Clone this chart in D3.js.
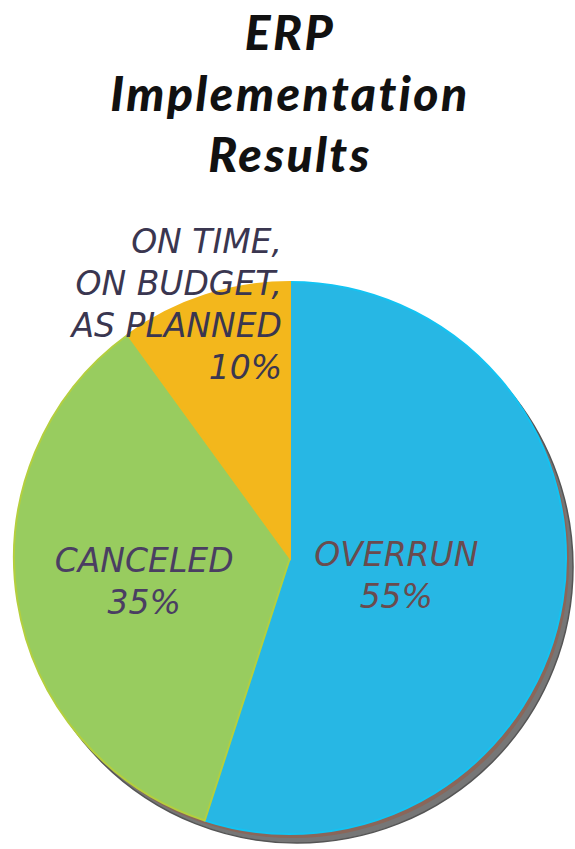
<!DOCTYPE html>
<html>
<head>
<meta charset="utf-8">
<script src="https://cdn.jsdelivr.net/npm/d3@7"></script>
<style>
  html, body { margin: 0; padding: 0; background: #fff; }
  svg { display: block; }
  text { font-style: italic; }
  .title { font-family: Lato, 'Open Sans', sans-serif; }
  .label { font-family: 'DejaVu Sans', sans-serif; }
</style>
</head>
<body>
<div id="chart"></div>
<script>
var titleLines = ['ERP', 'Implementation', 'Results']
var categories = ['OVERRUN', 'CANCELED', 'ON TIME,|ON BUDGET,|AS PLANNED']
var values = [55, 35, 10]
var colors = ['#27b7e4', '#98cc5f', '#f3b71c']
var edgeColors = ['#14c3f2', '#b4cf3e', '#f3b71c']
var labelColors = ['#6a4b4e', '#4a3e62', '#3a3650']

var w = 575
var h = 849
var cx = 290
var cy = 558
var r = 276
var lh = 42

var svg = d3.select('#chart')
	.append('svg')
	.attr('width', w)
	.attr('height', h)

// title
svg.selectAll('text.title')
	.data(titleLines)
	.enter()
	.append('text')
	.attr('class', 'title')
	.attr('x', 290)
	.attr('y', (d, i) => 50 + i * 61)
	.attr('text-anchor', 'middle')
	.attr('font-size', 48)
	.attr('font-weight', 900)
	.attr('letter-spacing', 2.5)
	.attr('fill', '#111')
	.text(d => d)

var pie = d3.pie().sort(null).value(d => d)
var arcs = pie(values)

var arc = d3.arc().innerRadius(0).outerRadius(r)

// 3d edge / shadow
svg.append('circle')
	.attr('cx', cx + 7)
	.attr('cy', cy + 9)
	.attr('r', r)
	.attr('fill', '#767676')
	.attr('stroke', '#555')
	.attr('stroke-width', 1.5)
svg.append('circle')
	.attr('cx', cx + 3)
	.attr('cy', cy + 4)
	.attr('r', r)
	.attr('fill', '#8a6659')

var g = svg.append('g')
	.attr('transform', 'translate(' + cx + ',' + cy + ')')

g.selectAll('path')
	.data(arcs)
	.enter()
	.append('path')
	.attr('d', arc)
	.attr('fill', (d, i) => colors[i])
	.attr('stroke', (d, i) => edgeColors[i])
	.attr('stroke-width', 2)

// labels
var labelRadius = [0.39, 0.535]

arcs.forEach(function(d, i) {
	var lines = categories[i].split('|').concat([values[i] + '%'])
	var x, y, anchor
	if (i < 2) {
		var la = d3.arc().innerRadius(0).outerRadius(r * labelRadius[i] * 2)
		var c = la.centroid(d)
		x = c[0]
		y = c[1] - lh / 2 + 12
		anchor = 'middle'
	} else {
		// above the pie, right aligned on the slice's end edge
		x = Math.sin(d.endAngle) * r - 8
		y = -Math.cos(d.endAngle) * r * 1.105
		anchor = 'end'
	}
	var t = g.append('text')
		.attr('class', 'label')
		.attr('text-anchor', anchor)
		.attr('font-size', 33)
		.attr('fill', labelColors[i])
	lines.forEach(function(line, j) {
		t.append('tspan')
			.attr('x', x)
			.attr('y', y + j * lh)
			.text(line)
	})
})
</script>
</body>
</html>
